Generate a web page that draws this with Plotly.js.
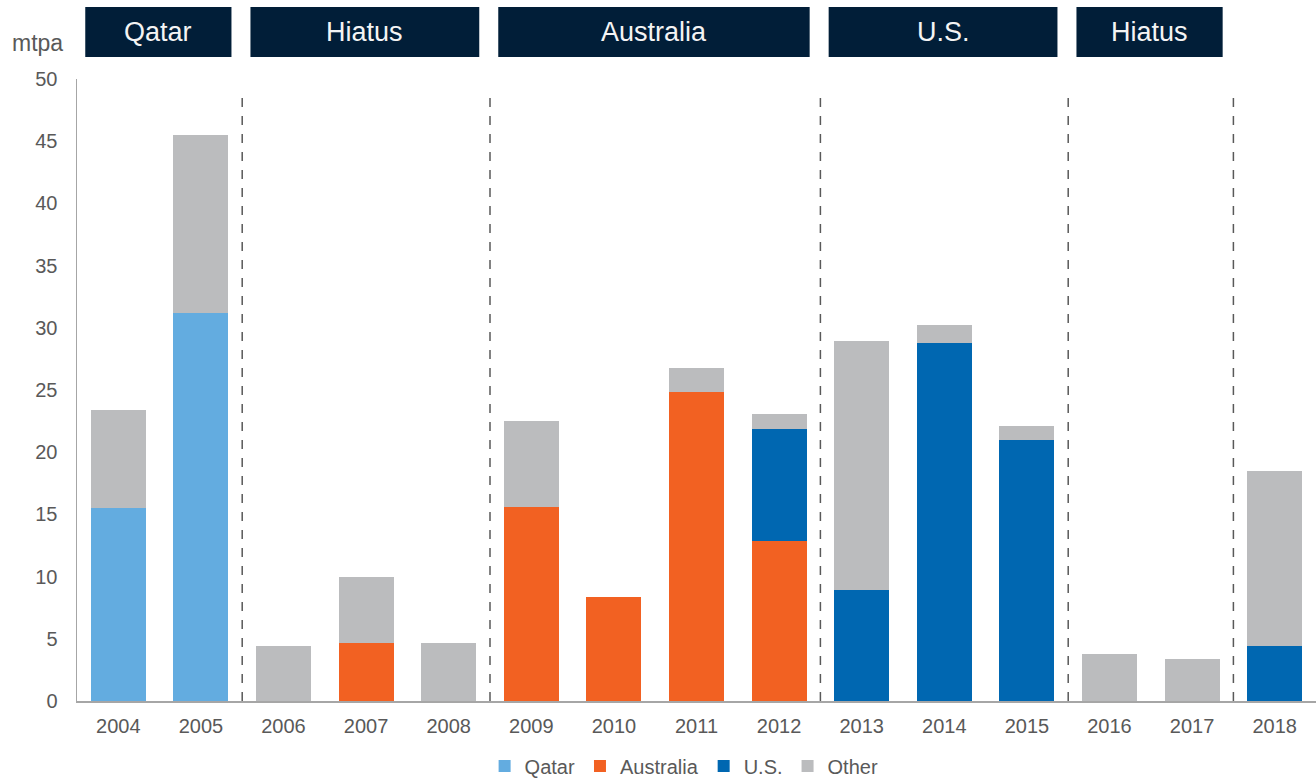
<!DOCTYPE html>
<html>
<head>
<meta charset="utf-8">
<script src="https://cdn.plot.ly/plotly-3.0.1.min.js"></script>
<style>html,body{margin:0;padding:0;background:#fff;}#chart{width:1316px;height:778px;}</style>
</head>
<body>
<div id="chart"></div>
<script>
const years = ['2004','2005','2006','2007','2008','2009','2010','2011','2012','2013','2014','2015','2016','2017','2018'];
const qatar     = [15.5, 31.2, 0, 0, 0, 0, 0, 0, 0, 0, 0, 0, 0, 0, 0];
const australia = [0, 0, 0, 4.7, 0, 15.6, 8.4, 24.8, 12.9, 0, 0, 0, 0, 0, 0];
const us        = [0, 0, 0, 0, 0, 0, 0, 0, 9.0, 8.9, 28.8, 21.0, 0, 0, 4.4];
const other     = [7.9, 14.3, 4.4, 5.3, 4.7, 6.9, 0, 2.0, 1.2, 20.0, 1.4, 1.1, 3.8, 3.4, 14.1];
const yTicks = [0,5,10,15,20,25,30,35,40,45,50];
const phases = [
  {label:'Qatar', from:0, to:1},
  {label:'Hiatus', from:2, to:4},
  {label:'Australia', from:5, to:8},
  {label:'U.S.', from:9, to:11},
  {label:'Hiatus', from:12, to:13}
];
const dividers = [1.5, 4.5, 8.5, 11.5, 13.5];

const colors = {Qatar:'#63ace0', Australia:'#f26122', 'U.S.':'#0067b1', Other:'#bbbcbe'};
const series = [['Qatar', qatar], ['Australia', australia], ['U.S.', us], ['Other', other]];
const traces = series.map(([name, vals]) => ({
  type:'bar', name:name, x:years, y:vals,
  marker:{color:colors[name], line:{width:0}},
  hoverinfo:'x+y+name'
}));

const FONT = 'Liberation Sans, Arial, sans-serif';
const shapes = [];
const annotations = [];
dividers.forEach(d => shapes.push({type:'line', xref:'x', yref:'paper', x0:d, x1:d, y0:0, y1:0.979,
  line:{color:'#595959', width:1.5, dash:'dash'}}));
phases.forEach(p => {
  shapes.push({type:'rect', xref:'x', yref:'paper', x0:p.from-0.4, x1:p.to+0.37, y0:1.0354, y1:1.1158,
    fillcolor:'#011e38', line:{width:0}, layer:'above'});
  annotations.push({xref:'x', yref:'paper', x:(p.from+p.to)/2 - 0.015, y:1.0756, text:p.label, showarrow:false,
    xanchor:'center', yanchor:'middle', font:{family:FONT, size:27, color:'#f4f4f4'}});
});
annotations.push({xref:'paper', yref:'paper', x:-0.0315, y:1.058, text:'mtpa', showarrow:false,
  xanchor:'center', yanchor:'middle', font:{family:FONT, size:23, color:'#595959'}});

const layout = {
  width:1316, height:778,
  margin:{l:77, r:0, t:79, b:77, autoexpand:false},
  barmode:'stack', bargap:0.335,
  paper_bgcolor:'#ffffff', plot_bgcolor:'#ffffff',
  font:{family:FONT, size:20, color:'#595959'},
  xaxis:{type:'category', range:[-0.5,14.5], showline:true, linecolor:'#a6a6a6', linewidth:1.5,
    ticks:'', showgrid:false, zeroline:false, tickfont:{size:20, color:'#595959'}, fixedrange:true,
    automargin:false, ticklabelstandoff:6},
  yaxis:{range:[0,50], tickvals:yTicks, ticktext:yTicks.map(String), showline:true, linecolor:'#a6a6a6', linewidth:1.5,
    ticks:'', showgrid:false, zeroline:false, tickfont:{size:20, color:'#595959'}, fixedrange:true,
    automargin:false, ticklabelstandoff:14},
  showlegend:true,
  legend:{orientation:'h', x:0.49, xanchor:'center', yref:'container', y:0.0154, yanchor:'middle',
    font:{size:20, color:'#595959'}, itemwidth:30, traceorder:'normal', tracegroupgap:0},
  shapes:shapes, annotations:annotations
};
Plotly.newPlot('chart', traces, layout, {displayModeBar:false, staticPlot:true});
</script>
</body>
</html>
